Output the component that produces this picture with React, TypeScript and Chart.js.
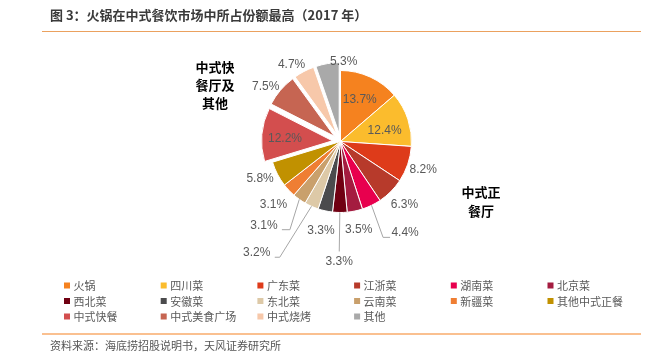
import { useEffect, useRef } from "react";
import { Chart, registerables } from "chart.js";

Chart.register(...registerables);

const categories = [
  "火锅", "四川菜", "广东菜", "江浙菜", "湖南菜", "北京菜",
  "西北菜", "安徽菜", "东北菜", "云南菜", "新疆菜", "其他中式正餐",
  "中式快餐", "中式美食广场", "中式烧烤", "其他",
];
const shares = [13.7, 12.4, 8.2, 6.3, 4.4, 3.5, 3.3, 3.3, 3.2, 3.1, 3.1, 5.8, 12.2, 7.5, 4.7, 5.3];
const sliceColors = [
  "#F5821F", "#FBBC2D", "#DE3B1A", "#B73A2B", "#E8004E", "#A41C40",
  "#700012", "#4B4B4D", "#DDC9A7", "#C9A06C", "#EF7E33", "#C19100",
  "#D34E4E", "#C66552", "#F7C8AA", "#A9A9A9",
];
const explodedSlices = [0, 0, 0, 0, 0, 0, 0, 0, 0, 0, 0, 0, 1, 1, 1, 1];
const titleText = "图 3：火锅在中式餐饮市场中所占份额最高（2017 年）";
const sourceText = "资料来源：海底捞招股说明书，天风证券研究所";
const groupFastFood = ["中式快", "餐厅及", "其他"];
const groupFullService = ["中式正", "餐厅"];

const EXPLODE_PX = 8;

type LabelSpec = { rf: number; angle?: number; leader?: [number, number][] };
const labelLayout: LabelSpec[] = [
  { rf: 0.65 },
  { rf: 0.64, angle: 76 },
  { rf: 1.23 },
  { rf: 1.27 },
  { rf: 1.57, angle: 144.6, leader: [[-22, 5], [-15, 5]] },
  { rf: 1.27 },
  { rf: 1.69, angle: 180.6, leader: [[0, -10]] },
  { rf: 1.28 },
  { rf: 1.96, angle: 217, leader: [[23, 4.6], [18, 4.6]] },
  { rf: 1.6, angle: 222.4, leader: [[26, 4.3], [18, 4.3]] },
  { rf: 1.3 },
  { rf: 1.25, angle: 245 },
  { rf: 0.67, angle: 272.4 },
  { rf: 1.19, angle: 305.6 },
  { rf: 1.17, angle: 327 },
  { rf: 1.02, angle: 3.6 },
];

const explodePlugin = {
  id: "explode",
  beforeDatasetDraw(chart: any, args: any) {
    const ctx: CanvasRenderingContext2D = chart.ctx;
    args.meta.data.forEach((el: any, i: number) => {
      const p = el.getProps(["startAngle", "endAngle"], true);
      const mid = (p.startAngle + p.endAngle) / 2;
      const d = explodedSlices[i] ? EXPLODE_PX : 0;
      ctx.save();
      ctx.translate(Math.cos(mid) * d, Math.sin(mid) * d);
      el.draw(ctx, chart.chartArea);
      ctx.restore();
    });
    return false;
  },
};

const decoPlugin = {
  id: "deco",
  afterDraw(chart: any) {
    const ctx: CanvasRenderingContext2D = chart.ctx;
    ctx.save();
    // title
    ctx.textBaseline = "middle";
    ctx.textAlign = "left";
    ctx.fillStyle = "#3a3a3a";
    ctx.font = 'bold 13px "Noto Sans CJK SC"';
    ctx.fillText(titleText, 50, 15.5);
    // rules
    ctx.strokeStyle = "#EBA15E";
    ctx.lineWidth = 1.2;
    ctx.beginPath();
    ctx.moveTo(42, 31.5);
    ctx.lineTo(641, 31.5);
    ctx.stroke();
    ctx.strokeStyle = "#FAC090";
    ctx.lineWidth = 2;
    ctx.beginPath();
    ctx.moveTo(42, 334);
    ctx.lineTo(641, 334);
    ctx.stroke();
    // source
    ctx.fillStyle = "#555555";
    ctx.font = '11px "Noto Sans CJK SC"';
    ctx.fillText(sourceText, 50, 346);
    // legend
    const colX = [64, 160.7, 257.4, 354.1, 450.8, 547.5];
    const rowY = [285.5, 301, 316.5];
    ctx.font = '11px "Noto Sans CJK SC"';
    categories.forEach((c, i) => {
      const x = colX[i % 6];
      const y = rowY[Math.floor(i / 6)];
      ctx.fillStyle = sliceColors[i];
      ctx.fillRect(x, y - 3, 6, 6);
      ctx.fillStyle = "#595959";
      ctx.fillText(c, x + 9.5, y + 0.5);
    });
    // group labels
    ctx.fillStyle = "#000000";
    ctx.font = 'bold 13px "Noto Sans CJK SC"';
    ctx.textAlign = "center";
    [66.7, 85.2, 103.5].forEach((y, i) => ctx.fillText(groupFastFood[i], 215, y));
    [192.5, 211.5].forEach((y, i) => ctx.fillText(groupFullService[i], 481, y));
    // data labels
    const meta = chart.getDatasetMeta(0);
    ctx.font = '12px "Liberation Sans"';
    ctx.strokeStyle = "#A6A6A6";
    ctx.lineWidth = 1;
    meta.data.forEach((el: any, i: number) => {
      const p = el.getProps(["x", "y", "startAngle", "endAngle", "outerRadius"], true);
      const mid = (p.startAngle + p.endAngle) / 2;
      const off = explodedSlices[i] ? EXPLODE_PX : 0;
      const cx = p.x + Math.cos(mid) * off;
      const cy = p.y + Math.sin(mid) * off;
      const R = p.outerRadius;
      const spec = labelLayout[i];
      const a = spec.angle !== undefined ? ((spec.angle - 90) * Math.PI) / 180 : mid;
      const lx = cx + Math.cos(a) * spec.rf * R;
      const ly = cy + Math.sin(a) * spec.rf * R;
      if (spec.leader) {
        ctx.beginPath();
        ctx.moveTo(cx + Math.cos(mid) * R, cy + Math.sin(mid) * R);
        spec.leader.forEach((q) => ctx.lineTo(lx + q[0], ly + q[1]));
        ctx.stroke();
      }
      ctx.fillStyle = "#595959";
      ctx.fillText(shares[i].toFixed(1) + "%", lx, ly);
    });
    ctx.restore();
  },
};

export default function App() {
  const ref = useRef<HTMLCanvasElement | null>(null);
  useEffect(() => {
    if (!ref.current) return;
    const chart = new Chart(ref.current, {
      type: "pie",
      data: {
        labels: categories,
        datasets: [
          {
            data: shares,
            backgroundColor: sliceColors,
            borderColor: "#ffffff",
            borderWidth: 1,
          },
        ],
      },
      options: {
        animation: false,
        responsive: false,
        devicePixelRatio: 1,
        events: [],
        radius: 71,
        layout: { padding: { left: 100, right: 69, top: 60, bottom: 136 } },
        plugins: {
          legend: { display: false },
          tooltip: { enabled: false },
          title: { display: false },
        },
      } as any,
      plugins: [explodePlugin, decoPlugin],
    });
    return () => chart.destroy();
  }, []);
  return (
    <div style={{ position: "absolute", left: 0, top: 0, width: 650, height: 359, background: "#fff" }}>
      <canvas ref={ref} width={650} height={359} />
    </div>
  );
}
